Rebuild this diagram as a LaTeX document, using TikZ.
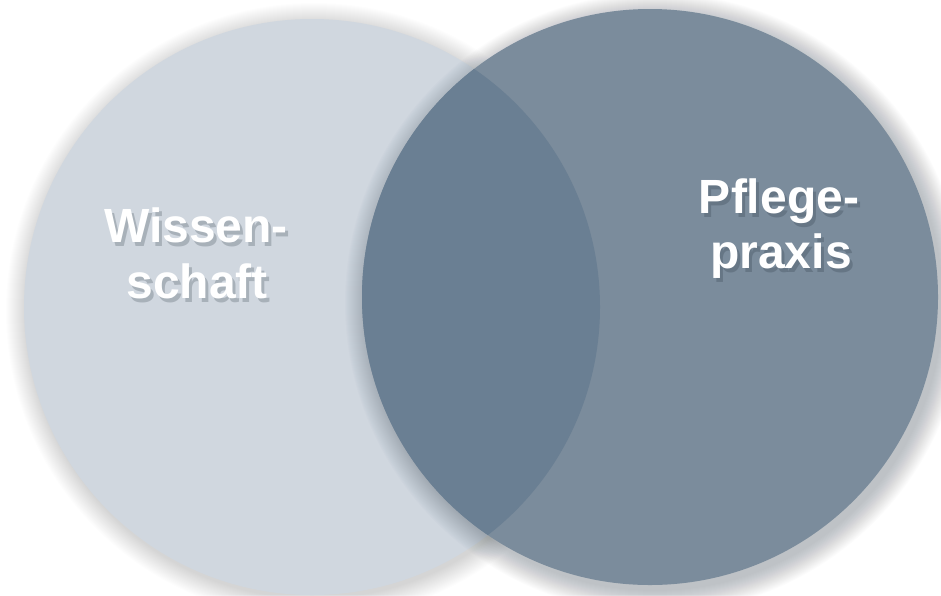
\documentclass[tikz,border=0pt]{standalone}
\usepackage{fontspec}
\setmainfont{Liberation Sans}
\definecolor{leftfill}{HTML}{D0D7DF}
\definecolor{rightfill}{HTML}{7B8C9C}
\definecolor{overlapfill}{HTML}{6A7F93}
\definecolor{shadowcol}{HTML}{1E2A36}
\tikzset{
  lbl/.style={font=\fontsize{48}{56}\selectfont\bfseries, text=white, inner sep=0pt, anchor=base},
  lblshadow/.style={font=\fontsize{48}{56}\selectfont\bfseries, text=shadowcol, text opacity=0.22, inner sep=0pt, anchor=base},
}
\begin{document}
\begin{tikzpicture}[x=1pt,y=-1pt]
\useasboundingbox (0,0) rectangle (941,595);
\fill[white] (0,0) rectangle (941,595);
\coordinate (cl) at (312,307);
\coordinate (cr) at (650,297);
% left circle shadow
\foreach \r in {0,...,20}{
  \fill[shadowcol, opacity=0.009] ([shift={(2,4)}]cl) circle ({288+\r});
}
\fill[leftfill] (cl) circle (288);
% right circle shadow
\foreach \r in {0,...,22}{
  \fill[shadowcol, opacity=0.013] ([shift={(5,6)}]cr) circle ({288+\r});
}
\fill[rightfill] (cr) circle (288);
\begin{scope}
  \clip (cl) circle (288);
  \fill[overlapfill] (cr) circle (288);
\end{scope}
% text shadows
\node[lblshadow] (ws) at (199,246) {Wissen-};
\node[lblshadow] (ss) at (200,302) {schaft};
\node[lblshadow] (ps) at (782,217) {Pflege-};
\node[lblshadow] (xs) at (784,272) {praxis};
% labels
\node[lbl] (w1) at (196,242) {Wissen-};
\node[lbl] (w2) at (197,298) {schaft};
\node[lbl] (p1) at (779,213) {Pflege-};
\node[lbl] (p2) at (781,268) {praxis};
\end{tikzpicture}
\end{document}
